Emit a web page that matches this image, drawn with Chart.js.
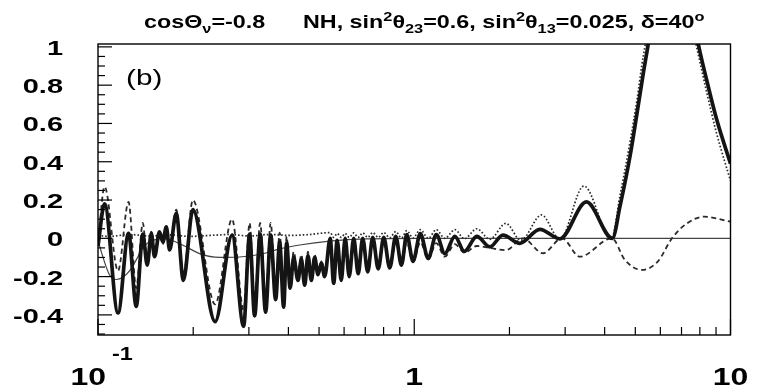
<!DOCTYPE html>
<html><head><meta charset="utf-8">
<script src="https://cdn.jsdelivr.net/npm/chart.js@4/dist/chart.umd.min.js"></script>
<style>html,body{margin:0;padding:0;background:#fff}#wrap{width:757px;height:389px;position:relative}</style>
</head><body><div id="wrap"><canvas id="c" width="757" height="389"></canvas></div>
<script>
// ---- data (energy E in GeV, value) ----
const thickE = [0.1000,0.1049,0.1157,0.1249,0.1321,0.1386,0.1431,0.1474,0.1509,0.1565,0.1604,0.1644,0.1684,0.1768,0.1862,0.1995,0.2346,0.2655,0.2887,0.3016,0.3128,0.3256,0.3389,0.3515,0.3645,0.3753,0.3864,0.3949,0.4051,0.4156,0.4288,0.4396,0.4503,0.4612,0.4728,0.4843,0.4961,0.5086,0.5209,0.5422,0.5562,0.5706,0.5875,0.6049,0.6227,0.6435,0.6649,0.6871,0.7126,0.7391,0.7693,0.8007,0.8365,0.8739,0.9110,0.9468,0.9913,1.045,1.107,1.174,1.249,1.344,1.440,1.577,1.734,1.906,2.158,2.495,2.887,3.503,4.232,4.470,4.808,5.059,5.297,5.494,5.769,6.578,7.444,7.908,8.406,9.044,10];
const thickV = [-0.04,0.18,-0.39,0.026,-0.355,0.022,-0.14,0.026,-0.096,0.034,-0.02,0.06,-0.06,0.13,-0.22,0.15,-0.435,0.017,-0.46,0.022,-0.405,0.022,-0.385,0.017,-0.32,-0.02,-0.36,-0.025,-0.26,-0.10,-0.22,-0.11,-0.245,-0.09,-0.22,-0.10,-0.19,-0.13,-0.2,0.0,-0.235,-0.01,-0.22,0.0,-0.2,0.0,-0.185,0.0,-0.175,0.005,-0.16,0.005,-0.155,0.01,-0.14,0.02,-0.12,0.025,-0.105,0.02,-0.08,0.01,-0.068,0.01,-0.045,0.017,-0.026,0.047,-0.003,0.19,0.0,0.165,0.426,0.65,0.86,1.015,1.25,1.55,1.25,1.015,0.827,0.62,0.39];

const dashE = [0.1000,0.1049,0.1157,0.1249,0.1321,0.1386,0.1431,0.1474,0.1509,0.1565,0.1604,0.1644,0.1684,0.1768,0.1862,0.1995,0.2346,0.2655,0.2887,0.3016,0.3128,0.3256,0.3389,0.3515,0.3645,0.3753,0.3864,0.3949,0.4051,0.4156,0.4288,0.4396,0.4503,0.4612,0.4728,0.4843,0.4961,0.5086,0.5209,0.5422,0.5562,0.5706,0.5875,0.6049,0.6227,0.6435,0.6649,0.6871,0.7126,0.7391,0.7693,0.8007,0.8365,0.8739,0.9110,0.9468,0.9913,1.045,1.107,1.174,1.249,1.344,1.440,1.577,1.734,1.948,2.205,2.551,2.930,3.340,4.217,4.636,5.247,5.896,6.530,7.283,8.244,10];
const dashV = [-0.03,0.27,-0.17,0.19,-0.26,0.08,-0.12,0.035,-0.09,0.025,-0.03,0.05,-0.06,0.15,-0.19,0.20,-0.345,0.10,-0.375,0.08,-0.33,0.08,-0.32,0.08,-0.27,0.03,-0.32,0.01,-0.23,-0.07,-0.19,-0.085,-0.22,-0.07,-0.2,-0.085,-0.18,-0.12,-0.19,-0.01,-0.225,-0.025,-0.21,-0.02,-0.19,-0.02,-0.18,-0.025,-0.17,-0.025,-0.16,-0.025,-0.155,-0.025,-0.14,-0.02,-0.125,-0.02,-0.11,-0.025,-0.096,-0.03,-0.075,-0.04,-0.05,-0.062,0.0,-0.078,0.0,-0.096,0.0,-0.113,-0.165,-0.12,0.0,0.078,0.113,0.087];

const dotE = [0.1000,0.1087,0.1258,0.1455,0.1684,0.1948,0.2253,0.2607,0.3016,0.3489,0.4036,0.4670,0.5422,0.5562,0.5706,0.5875,0.6049,0.6227,0.6435,0.6649,0.6871,0.7126,0.7391,0.7693,0.8007,0.8365,0.8739,0.9110,0.9468,0.9913,1.045,1.107,1.174,1.249,1.344,1.440,1.577,1.734,1.948,2.173,2.527,2.887,3.439,4.202,4.470,4.808,5.059,5.297,6.483,7.777,8.365,8.998,10];
const dotV = [0.015,0.01,0.02,0.012,0.018,0.01,0.015,0.02,0.012,0.02,0.015,0.02,0.03,0.005,0.025,0.005,0.025,0.005,0.028,0.005,0.028,0.005,0.03,0.005,0.03,0.003,0.035,0.002,0.04,0.002,0.045,0.0,0.045,0.0,0.045,-0.002,0.05,-0.005,0.078,-0.01,0.122,-0.005,0.273,-0.003,0.22,0.50,0.72,0.95,1.6,1.015,0.78,0.56,0.30];

const thinE = [0.1000,0.1033,0.1087,0.1144,0.1195,0.1258,0.1324,0.1373,0.1434,0.1509,0.1588,0.1708,0.1878,0.2095,0.2424,0.2908,0.3365,0.3753,0.4342,0.5402,0.7023,1.041,10];
const thinV = [-0.01,-0.09,-0.19,-0.215,-0.205,-0.17,-0.11,-0.06,-0.025,-0.008,0.0,-0.01,-0.04,-0.08,-0.1,-0.095,-0.078,-0.055,-0.035,-0.015,-0.003,0.0,0.0];

const yTickValues = [-0.4,-0.2,0,0.2,0.4,0.6,0.8,1];
const yTickLabels = ['-0.4','-0.2','0','0.2','0.4','0.6','0.8','1'];
const xTickValues = [0.1,1,10];
const xTickLabels = ['10','1','10'];
const xTickExps   = ['-1','',''];
const titleA = [['cosΘ','n'],['ν','sub'],['=-0.8','n']];
const titleB = [['NH, sin','n'],['2','sup'],['θ','n'],['23','sub'],['=0.6, sin','n'],['2','sup'],['θ','n'],['13','sub'],['=0.025, δ=40','n'],['o','sup']];
const panelLabel = '(b)';

// ---- helpers ----
const FAM = '"Liberation Sans", Arial, Helvetica, sans-serif';
function drawTxt(ctx, s, x, y, font, align, sx){
  ctx.save(); ctx.font = font; ctx.translate(x, y); ctx.scale(sx, 1);
  ctx.textAlign = align; ctx.textBaseline = 'alphabetic'; ctx.fillStyle = '#000';
  ctx.fillText(s, 0, 0); ctx.restore();
}
function txtW(ctx, s, font, sx){ ctx.save(); ctx.font = font; const w = ctx.measureText(s).width * sx; ctx.restore(); return w; }
function drawRich(ctx, parts, x, base, sx){
  const fonts = {n:'bold 18.5px '+FAM, sub:'bold 13px '+FAM, sup:'bold 13px '+FAM};
  const dy = {n:0, sub:5, sup:-7.5};
  let cx = x;
  for (const [s,k] of parts){ drawTxt(ctx, s, cx, base+dy[k], fonts[k], 'left', sx); cx += txtW(ctx, s, fonts[k], sx); }
}
function pts(E,V){ return E.map((e,i)=>({x:e, y:V[i]})); }

const frame = {
  id:'frame',
  afterDatasetsDraw(chart){
    const {ctx, chartArea:a, scales:{x, y}} = chart;
    ctx.save();
    ctx.strokeStyle = '#000'; ctx.lineWidth = 1.4;
    ctx.strokeRect(a.left, a.top, a.right-a.left, a.bottom-a.top);
    ctx.lineWidth = 1.2;
    for (let k=-10; k<=20; k++){
      const v = k*0.05; if (v < y.min || v > y.max) continue;
      const py = y.getPixelForValue(v); const len = (k%4===0) ? 14 : 7;
      ctx.beginPath(); ctx.moveTo(a.left, py); ctx.lineTo(a.left+len, py); ctx.stroke();
    }
    for (const dec of [0.1, 1]){
      for (let m=1; m<=9; m++){
        const px = x.getPixelForValue(m*dec); const len = (m===1) ? 16 : 8;
        ctx.beginPath(); ctx.moveTo(px, a.bottom); ctx.lineTo(px, a.bottom-len); ctx.stroke();
      }
    }
    const px10 = x.getPixelForValue(10);
    ctx.beginPath(); ctx.moveTo(px10, a.bottom); ctx.lineTo(px10, a.bottom-16); ctx.stroke();
    ctx.restore();
    // y labels
    yTickValues.forEach((v,i)=>{
      drawTxt(ctx, yTickLabels[i], 63, y.getPixelForValue(v)+8, 'bold 21px '+FAM, 'right', 1.38);
    });
    // x labels
    xTickValues.forEach((v,i)=>{
      const px = x.getPixelForValue(v);
      if (xTickExps[i]){
        drawTxt(ctx, xTickLabels[i], px+8, 385, 'bold 23.5px '+FAM, 'right', 1.36);
        drawTxt(ctx, xTickExps[i], px+14, 360, 'bold 18px '+FAM, 'left', 1.3);
      } else {
        drawTxt(ctx, xTickLabels[i], px, 385, 'bold 23.5px '+FAM, 'center', 1.36);
      }
    });
    // title
    drawRich(ctx, titleA, 144, 28, 1.26);
    drawRich(ctx, titleB, 303, 28, 1.26);
    // panel label
    drawTxt(ctx, panelLabel, 126, 85, '22px '+FAM, 'left', 1.35);
  }
};

const common = {pointRadius:0, pointHoverRadius:0, fill:false, cubicInterpolationMode:'monotone', borderCapStyle:'butt'};
new Chart(document.getElementById('c'), {
  type:'line',
  data:{ datasets:[
    Object.assign({label:'total', data:pts(thickE,thickV), borderColor:'#141414', borderWidth:3.7, borderJoinStyle:'round'}, common),
    Object.assign({label:'dotted', data:pts(dotE,dotV), borderColor:'#2a2a2a', borderWidth:1.7, borderDash:[1.6,2]}, common),
    Object.assign({label:'dashed', data:pts(dashE,dashV), borderColor:'#2a2a2a', borderWidth:1.8, borderDash:[5,3.5]}, common),
    Object.assign({label:'thin', data:pts(thinE,thinV), borderColor:'#444', borderWidth:1.2}, common)
  ]},
  options:{
    responsive:false, animation:false, devicePixelRatio:1,
    layout:{padding:{left:98, right:26.5, top:44, bottom:54}},
    plugins:{legend:{display:false}, tooltip:{enabled:false}, title:{display:false}},
    scales:{
      x:{type:'logarithmic', min:0.1, max:10, display:false},
      y:{type:'linear', min:-0.505, max:1.015, display:false}
    }
  },
  plugins:[frame]
});
</script></body></html>
